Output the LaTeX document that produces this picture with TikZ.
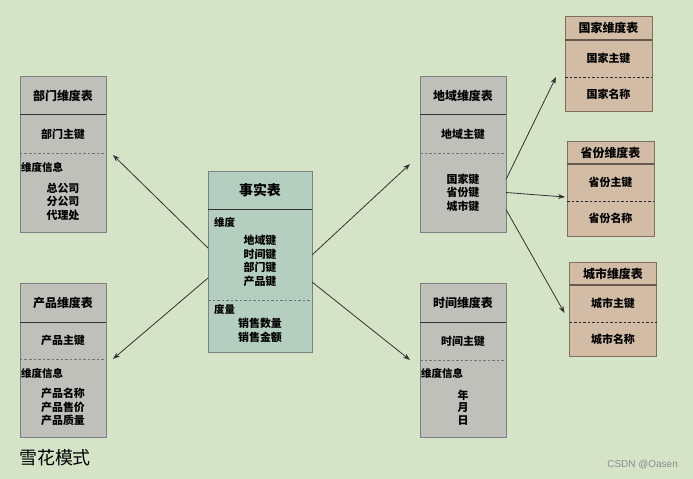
\documentclass[tikz,border=0pt]{standalone}
\usepackage{fontspec}
\newfontfamily\cjk{Noto Sans CJK SC}
\newfontfamily\wmfont{Liberation Sans}
\usepackage{tikz}
\usetikzlibrary{arrows.meta, positioning}

\definecolor{bgcol}{RGB}{213,227,199}
\definecolor{dimfill}{RGB}{192,192,186}
\definecolor{factfill}{RGB}{180,206,192}
\definecolor{subfill}{RGB}{211,188,166}
\definecolor{subline}{RGB}{128,110,98}

\begin{document}
\begin{tikzpicture}[
  x=1bp, y=-1bp,
  tbl/.style={rectangle, inner sep=0pt, outer sep=0pt, align=center,
              font=\cjk\bfseries\fontsize{11}{13.5}\selectfont},
  dimtbl/.style={tbl, fill=dimfill, minimum width=86bp},
  facttbl/.style={tbl, fill=factfill, minimum width=104bp},
  subtbl/.style={tbl, fill=subfill, minimum width=87bp},
  head/.style={font=\cjk\bfseries\fontsize{12}{14}\selectfont},
  items/.style={align=center, inner sep=0pt, font=\cjk\bfseries\fontsize{11}{13.5}\selectfont},
  tag/.style={anchor=west, inner sep=1bp, font=\cjk\bfseries\fontsize{10.5}{12}\selectfont},
  frame/.style={draw=gray, line width=0.8bp},
  sep/.style={draw=black!80, line width=1bp},
  dsep/.style={draw=black!55, dash pattern=on 2.5bp off 2bp, line width=0.9bp},
  subframe/.style={draw=subline, line width=0.8bp},
  subsep/.style={draw=subline!80!black, line width=1.5bp},
  subdsep/.style={draw=black!85, dash pattern=on 2.5bp off 2bp, line width=0.7bp},
  arr/.style={-{Stealth[length=7bp, width=5bp]}, line width=0.8bp, draw=black!80},
]

\fill[bgcol] (0,0) rectangle (693,479);

% fact table in the middle
\node[facttbl, minimum height=39bp, font=\cjk\bfseries\fontsize{14}{16}\selectfont] (fact) at (260,190.5) {事实表};
\node[facttbl, minimum height=90bp, below=0pt of fact] (factdims) {};
\node[facttbl, minimum height=52bp, below=0pt of factdims] (factmeas) {};
\node[tag] (factdimstag) at ([shift={(5bp,-12bp)}]factdims.north west) {维度};
\node[items] (factdimsitems) at ([yshift=-6bp]factdims.center) {地域键\\时间键\\部门键\\产品键};
\node[tag] (factmeastag) at ([shift={(5bp,-9bp)}]factmeas.north west) {度量};
\node[items] (factmeasitems) at ([yshift=-4.5bp]factmeas.center) {销售数量\\销售金额};
\draw[frame] (fact.north west) rectangle (factmeas.south east);
\draw[sep] (fact.south west) -- (fact.south east);
\draw[dsep] (factdims.south west) -- (factdims.south east);

% dimension tables on the left
\node[dimtbl, head, minimum height=39bp] (dept) at (63,95.5) {部门维度表};
\node[dimtbl, minimum height=38bp, below=0pt of dept] (deptkey) {部门主键};
\node[dimtbl, minimum height=79bp, below=0pt of deptkey] (deptinfo) {};
\node[tag] (depttag) at ([yshift=-14bp]deptinfo.north west) {维度信息};
\node[items] (deptitems) at ([yshift=-9bp]deptinfo.center) {总公司\\分公司\\代理处};
\draw[frame] (dept.north west) rectangle (deptinfo.south east);
\draw[sep] (dept.south west) -- (dept.south east);
\draw[dsep] (deptkey.south west) -- (deptkey.south east);

\node[dimtbl, head, minimum height=39bp] (prod) at (63,302.5) {产品维度表};
\node[dimtbl, minimum height=37bp, below=0pt of prod] (prodkey) {产品主键};
\node[dimtbl, minimum height=78bp, below=0pt of prodkey] (prodinfo) {};
\node[tag] (prodtag) at ([yshift=-14bp]prodinfo.north west) {维度信息};
\node[items] (proditems) at ([yshift=-9bp]prodinfo.center) {产品名称\\产品售价\\产品质量};
\draw[frame] (prod.north west) rectangle (prodinfo.south east);
\draw[sep] (prod.south west) -- (prod.south east);
\draw[dsep] (prodkey.south west) -- (prodkey.south east);

% dimension tables on the right
\node[dimtbl, head, minimum height=39bp] (region) at (463,95.5) {地域维度表};
\node[dimtbl, minimum height=38bp, below=0pt of region] (regionkey) {地域主键};
\node[dimtbl, minimum height=79bp, below=0pt of regionkey] (regioninfo) {国家键\\省份键\\城市键};
\draw[frame] (region.north west) rectangle (regioninfo.south east);
\draw[sep] (region.south west) -- (region.south east);
\draw[dsep] (regionkey.south west) -- (regionkey.south east);

\node[dimtbl, head, minimum height=39bp] (time) at (463,302.5) {时间维度表};
\node[dimtbl, minimum height=38bp, below=0pt of time] (timekey) {时间主键};
\node[dimtbl, minimum height=77bp, below=0pt of timekey] (timeinfo) {};
\node[tag] (timetag) at ([yshift=-13bp]timeinfo.north west) {维度信息};
\node[items, font=\cjk\bfseries\fontsize{11}{12.5}\selectfont] (timeitems) at ([yshift=-9bp]timeinfo.center) {年\\月\\日};
\draw[frame] (time.north west) rectangle (timeinfo.south east);
\draw[sep] (time.south west) -- (time.south east);
\draw[dsep] (timekey.south west) -- (timekey.south east);

% snowflake branches of the region table
\node[subtbl, head, minimum height=24bp] (country) at (608.5,28) {国家维度表};
\node[subtbl, minimum height=37bp, below=0pt of country] (countrykey) {国家主键};
\node[subtbl, minimum height=34bp, below=0pt of countrykey] (countryname) {国家名称};
\draw[subframe] (country.north west) rectangle (countryname.south east);
\draw[subsep] (country.south west) -- (country.south east);
\draw[subdsep] (countrykey.south west) -- (countrykey.south east);

\node[subtbl, head, minimum height=23bp] (prov) at (610.5,152.5) {省份维度表};
\node[subtbl, minimum height=37bp, below=0pt of prov] (provkey) {省份主键};
\node[subtbl, minimum height=35bp, below=0pt of provkey] (provname) {省份名称};
\draw[subframe] (prov.north west) rectangle (provname.south east);
\draw[subsep] (prov.south west) -- (prov.south east);
\draw[subdsep] (provkey.south west) -- (provkey.south east);

\node[subtbl, head, minimum height=23bp] (city) at (613,273.5) {城市维度表};
\node[subtbl, minimum height=37bp, below=0pt of city] (citykey) {城市主键};
\node[subtbl, minimum height=34bp, below=0pt of citykey] (cityname) {城市名称};
\draw[subframe] (city.north west) rectangle (cityname.south east);
\draw[subsep] (city.south west) -- (city.south east);
\draw[subdsep] (citykey.south west) -- (citykey.south east);

% connectors
\draw[arr] ([yshift=7bp]factdims.west) -- ([shift={(7bp,-2bp)}]deptkey.south east);
\draw[arr] ([yshift=-23bp]factdims.west) -- ([xshift=7bp]prodkey.south east);
\draw[arr] (factdims.east) -- ([shift={(-10bp,-11bp)}]regionkey.south west);
\draw[arr] ([yshift=-27bp]factdims.east) -- ([xshift=-10bp]timekey.south west);
\draw[arr] ([yshift=13bp]regioninfo.east) -- ([xshift=-9bp]countrykey.south west);
\draw[arr] (regioninfo.east) -- ([shift={(-2bp,4bp)}]provkey.south west);
\draw[arr] ([yshift=-17bp]regioninfo.east) -- ([shift={(-5bp,9bp)}]citykey.south west);

\node[anchor=west, inner sep=0pt, font=\cjk\fontsize{18}{20}\selectfont] (title) at (19,458) {雪花模式};
\node[anchor=east, inner sep=0pt, text=black!45, font=\wmfont\fontsize{10}{12}\selectfont] (mark) at (678,465) {CSDN @Oasen};

\end{tikzpicture}
\end{document}
